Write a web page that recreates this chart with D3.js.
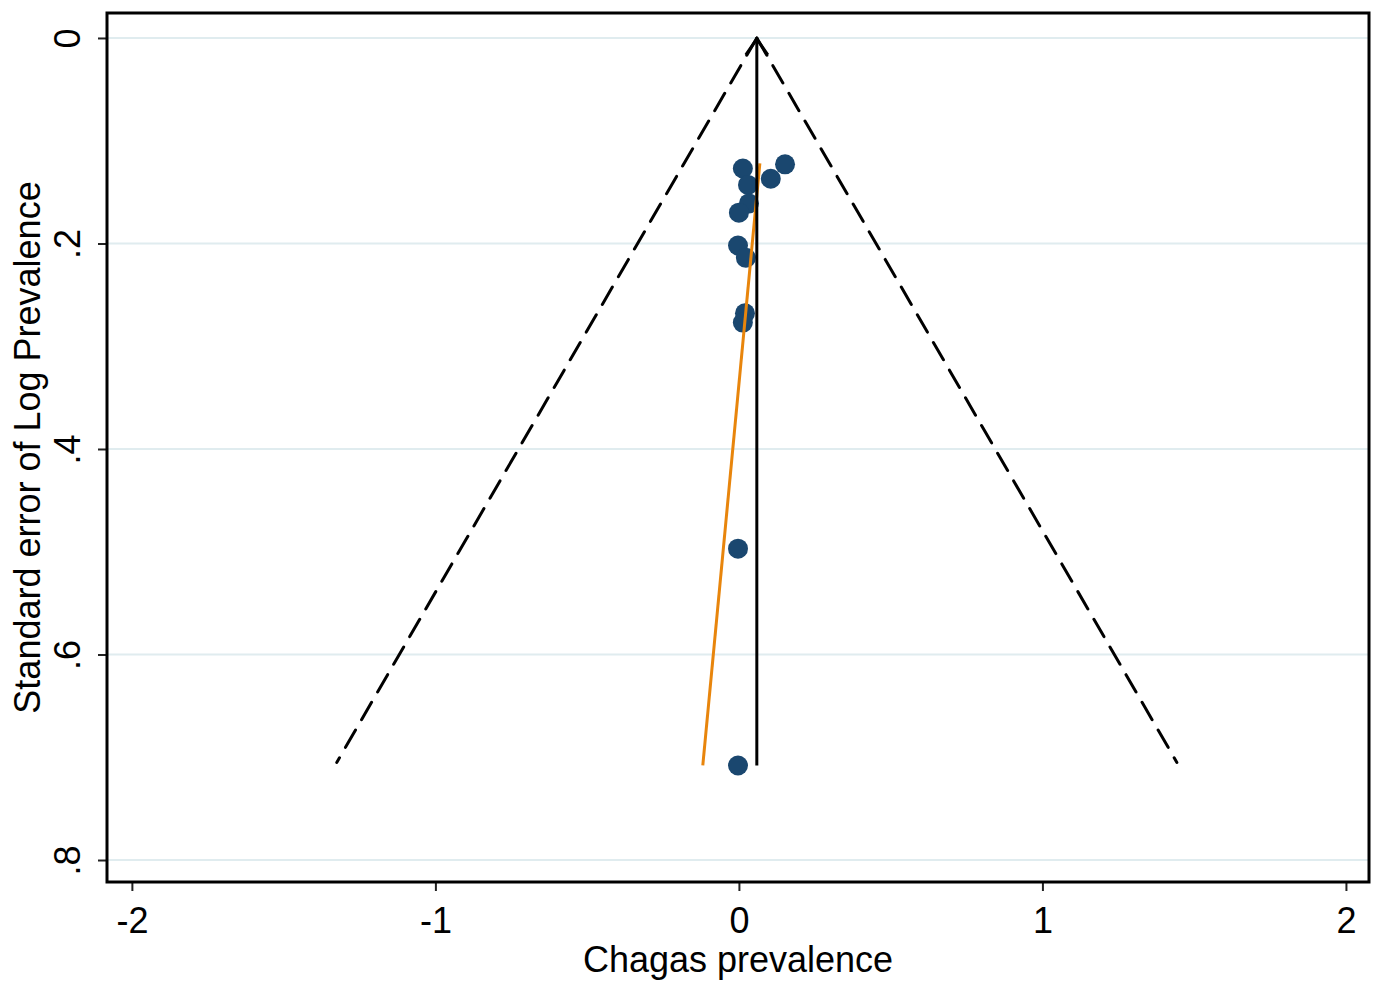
<html>
  <head>
    <meta charset="utf-8"/>
    <style>
      body {
        margin: 0;
        background: white;
      }
      text {
        font-family: "Liberation Sans", Arial, Helvetica, sans-serif;
        fill: black;
      }
    </style>
    <script src="https://d3js.org/d3.v7.min.js"></script>
  </head>
  <body>
    <script>
    // study estimates (prevalence) and their standard errors
    var studyX  = [0.013, 0.152, 0.105, 0.030, 0.033, 0.000, -0.003, 0.023, 0.020, 0.013, -0.003, -0.003];
    var studySE = [0.127, 0.123, 0.137, 0.143, 0.161, 0.170, 0.202, 0.214, 0.268, 0.277, 0.497, 0.708];

    // pooled estimate line and pseudo 95% limits
    var pooledX = [0.059, 0.059];
    var pooledSE = [0, 0.708];
    var limitLeftX = [0.059, -1.325];
    var limitRightX = [0.059, 1.443];
    var limitSE = [0, 0.705];

    // regression (Egger) line
    var eggerX = [0.069, -0.119];
    var eggerSE = [0.122, 0.708];

    var xTicks = [-2, -1, 0, 1, 2];
    var xTickLabels = ["-2", "-1", "0", "1", "2"];
    var yTicks = [0, 0.2, 0.4, 0.6, 0.8];
    var yTickLabels = ["0", ".2", ".4", ".6", ".8"];

    var width = 1377, height = 981;
    var plotL = 107, plotR = 1369, plotT = 13, plotB = 882;
    var fs = 36;

    var svg = d3.select("body").append("svg")
      .attr("width", width).attr("height", height);

    var x = d3.scaleLinear().domain([-2.082, 2.076]).range([plotL, plotR]);
    var y = d3.scaleLinear().domain([-0.0243, 0.8214]).range([plotT, plotB]);

    // gridlines
    svg.append("g").selectAll("line")
      .data(yTicks).enter().append("line")
      .attr("x1", plotL).attr("x2", plotR)
      .attr("y1", d => y(d)).attr("y2", d => y(d))
      .attr("stroke", "#e0ecef").attr("stroke-width", 2);

    // axes
    var xAxis = d3.axisBottom(x).tickValues(xTicks)
      .tickFormat((d, i) => xTickLabels[i]).tickSize(9).tickSizeOuter(0).tickPadding(16);
    var gx = svg.append("g").attr("transform", "translate(0," + plotB + ")").call(xAxis)
      .attr("font-size", fs).attr("font-family", "'Liberation Sans', Arial, sans-serif");
    gx.select(".domain").remove();
    gx.selectAll(".tick line").attr("stroke", "#222").attr("stroke-width", 2);
    gx.selectAll(".tick text").attr("fill", "black");

    var yAxis = d3.axisLeft(y).tickValues(yTicks)
      .tickFormat((d, i) => yTickLabels[i]).tickSize(9).tickSizeOuter(0);
    var gy = svg.append("g").attr("transform", "translate(" + plotL + ",0)").call(yAxis)
      .attr("font-size", fs).attr("font-family", "'Liberation Sans', Arial, sans-serif");
    gy.select(".domain").remove();
    gy.selectAll(".tick line").attr("stroke", "#222").attr("stroke-width", 2);
    gy.selectAll(".tick text")
      .attr("fill", "black")
      .attr("text-anchor", "middle")
      .attr("x", 0).attr("dy", 0)
      .attr("transform", "translate(-27,0) rotate(-90)");

    // frame
    svg.append("rect")
      .attr("x", plotL).attr("y", plotT)
      .attr("width", plotR - plotL).attr("height", plotB - plotT)
      .attr("fill", "none").attr("stroke", "black").attr("stroke-width", 3);

    // points
    var pts = studyX.map((v, i) => ({x: v, se: studySE[i]}));
    svg.append("g").selectAll("circle")
      .data(pts).enter().append("circle")
      .attr("cx", d => x(d.x)).attr("cy", d => y(d.se))
      .attr("r", 10).attr("fill", "#1a476f");

    var line = d3.line().x(d => x(d[0])).y(d => y(d[1]));
    var zip = (a, b) => a.map((v, i) => [v, b[i]]);

    // pseudo confidence limits
    [limitLeftX, limitRightX].forEach(arr => {
      svg.append("path").attr("d", line(zip(arr, limitSE)))
        .attr("fill", "none").attr("stroke", "black")
        .attr("stroke-width", 3).attr("stroke-dasharray", "20,12")
        .attr("stroke-linecap", "round");
    });

    // egger line
    svg.append("path").attr("d", line(zip(eggerX, eggerSE)))
      .attr("fill", "none").attr("stroke", "#e8850c").attr("stroke-width", 3);

    // pooled line with open arrowhead
    svg.append("path").attr("d", line(zip(pooledX, pooledSE)))
      .attr("fill", "none").attr("stroke", "black").attr("stroke-width", 3);
    var ax = x(pooledX[0]), ay = y(pooledSE[0]);
    svg.append("path")
      .attr("d", "M" + (ax - 11) + "," + (ay + 17) + "L" + ax + "," + (ay + 1) + "L" + (ax + 11) + "," + (ay + 17))
      .attr("fill", "none").attr("stroke", "black").attr("stroke-width", 3);

    // axis titles
    svg.append("text")
      .attr("x", (plotL + plotR) / 2).attr("y", 972)
      .attr("text-anchor", "middle").attr("font-size", fs)
      .text("Chagas prevalence");

    svg.append("text")
      .attr("transform", "translate(40," + ((plotT + plotB) / 2) + ") rotate(-90)")
      .attr("text-anchor", "middle").attr("font-size", fs)
      .text("Standard error of Log Prevalence");
    </script>
  </body>
</html>
